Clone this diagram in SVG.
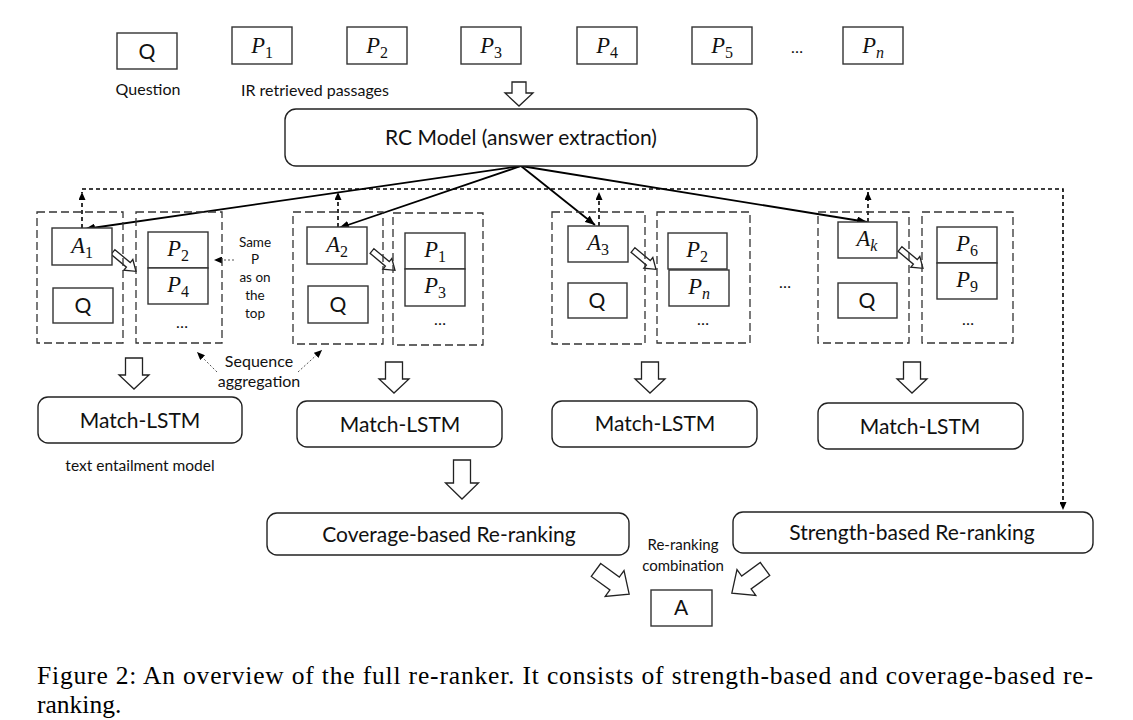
<svg xmlns="http://www.w3.org/2000/svg" width="1133" height="720" viewBox="0 0 1133 720">
<style>
.bx{fill:#fff;stroke:#333;stroke-width:1.4}
.rb{fill:#fff;stroke:#222;stroke-width:1.4}
.db{fill:none;stroke:#333;stroke-width:1.3;stroke-dasharray:8 4}
.ha{fill:#fff;stroke:#222;stroke-width:1.3;stroke-linejoin:miter}
.sl{fill:none;stroke:#000;stroke-width:1.8}
.dl{fill:none;stroke:#000;stroke-width:1.6;stroke-dasharray:4 3}
.dt{fill:none;stroke:#555;stroke-width:1;stroke-dasharray:2 2}
.t{font-family:Lato,"Open Sans",sans-serif;fill:#111}
.big{font-size:21px}
.sm{font-size:16px}
.xs{font-size:13.5px}
.m{font-family:"Liberation Serif",serif;font-size:22.5px;fill:#111}
.mi{font-style:italic}
.sub{font-size:16px}
.cap{font-family:"Liberation Serif",serif;font-size:25.5px;fill:#000}
</style>
<defs>
<marker id="ah" markerWidth="10" markerHeight="8" refX="10" refY="4" orient="auto" markerUnits="userSpaceOnUse"><path d="M0,0 L10,4 L0,8 Z" fill="#000"/></marker>
<marker id="ahs" markerWidth="8" markerHeight="7" refX="8" refY="3.5" orient="auto" markerUnits="userSpaceOnUse"><path d="M0,0 L8,3.5 L0,7 Z" fill="#000"/></marker>
<path id="down" d="M-8.5,0 H8.5 V17 H15 L0,31 L-15,17 H-8.5 Z"/>
<path id="down2" d="M-8.5,0 H8.5 V23 H16.5 L0,39 L-16.5,23 H-8.5 Z"/>
<path id="down0" d="M-7,0 H7 V11 H14 L0,24 L-14,11 H-7 Z"/>
<path id="slim" d="M0,-3 L20,-3 L20,-7 L30,0 L20,7 L20,3 L0,3 Z"/>
<path id="fat" d="M0,-8 L23,-8 L23,-16 L41,0 L23,16 L23,8 L0,8 Z"/>
</defs>
<rect width="1133" height="720" fill="#fff"/>

<g id="connectors">
<line class="sl" x1="521" y1="166" x2="85" y2="229" marker-end="url(#ah)"/>
<line class="sl" x1="521" y1="166" x2="339" y2="228" marker-end="url(#ah)"/>
<line class="sl" x1="521" y1="166" x2="595" y2="225" marker-end="url(#ah)"/>
<line class="sl" x1="521" y1="166" x2="867" y2="222" marker-end="url(#ah)"/>
<path class="dl" d="M82,189 H1063 V510" marker-end="url(#ahs)"/>
<line class="dl" x1="82" y1="228" x2="82" y2="192" marker-end="url(#ahs)"/>
<line class="dl" x1="338" y1="227" x2="338" y2="192" marker-end="url(#ahs)"/>
<line class="dl" x1="599" y1="226" x2="599" y2="192" marker-end="url(#ahs)"/>
<line class="dl" x1="868" y1="222" x2="868" y2="192" marker-end="url(#ahs)"/>
<line class="dt" x1="234" y1="260" x2="214" y2="260" marker-end="url(#ahs)"/>
<line class="dt" x1="217" y1="372" x2="197" y2="352" marker-end="url(#ahs)"/>
<line class="dt" x1="298" y1="372" x2="322" y2="350" marker-end="url(#ahs)"/>
<use href="#down0" class="ha" transform="translate(519,82)"/>
<use href="#slim" class="ha" transform="translate(113,252) rotate(40)"/>
<use href="#slim" class="ha" transform="translate(372,251) rotate(40)"/>
<use href="#slim" class="ha" transform="translate(633,250) rotate(40)"/>
<use href="#slim" class="ha" transform="translate(900,249) rotate(40)"/>
<use href="#down" class="ha" transform="translate(134,358)"/>
<use href="#down" class="ha" transform="translate(394,362)"/>
<use href="#down" class="ha" transform="translate(650,362)"/>
<use href="#down" class="ha" transform="translate(912,362)"/>
<use href="#down2" class="ha" transform="translate(462,460)"/>
<use href="#fat" class="ha" transform="translate(596,570) rotate(36)"/>
<use href="#fat" class="ha" transform="translate(765,569) rotate(144)"/>
</g>

<g id="question">
<rect class="bx" x="117" y="33" width="60" height="36"/>
<text class="t big" x="147" y="58.5" text-anchor="middle">Q</text>
<text class="t sm" x="148" y="95" text-anchor="middle">Question</text>
</g>
<g id="passages">
<rect class="bx" x="232" y="27" width="60" height="37"/>
<text class="m" x="262" y="53" text-anchor="middle"><tspan class="mi">P</tspan><tspan class="sub" dy="5">1</tspan></text>
<rect class="bx" x="347" y="27" width="60" height="37"/>
<text class="m" x="377" y="53" text-anchor="middle"><tspan class="mi">P</tspan><tspan class="sub" dy="5">2</tspan></text>
<rect class="bx" x="461" y="27" width="60" height="37"/>
<text class="m" x="491" y="53" text-anchor="middle"><tspan class="mi">P</tspan><tspan class="sub" dy="5">3</tspan></text>
<rect class="bx" x="577" y="27" width="60" height="37"/>
<text class="m" x="607" y="53" text-anchor="middle"><tspan class="mi">P</tspan><tspan class="sub" dy="5">4</tspan></text>
<rect class="bx" x="692" y="27" width="60" height="37"/>
<text class="m" x="722" y="53" text-anchor="middle"><tspan class="mi">P</tspan><tspan class="sub" dy="5">5</tspan></text>
<text class="t sm" x="797" y="53" text-anchor="middle">…</text>
<rect class="bx" x="843" y="27" width="60" height="37"/>
<text class="m" x="873" y="53" text-anchor="middle"><tspan class="mi">P</tspan><tspan class="sub mi" dy="5">n</tspan></text>
<text class="t sm" x="315" y="96" text-anchor="middle">IR retrieved passages</text>
</g>
<g id="rc-model">
<rect class="rb" x="285" y="109" width="472" height="57" rx="11"/>
<text class="t big" x="521" y="145" text-anchor="middle">RC Model (answer extraction)</text>
</g>

<g id="group-a1">
<rect class="db" x="37" y="212" width="86" height="131"/>
<rect class="bx" x="52" y="228" width="60" height="37"/>
<text class="m" x="82" y="253" text-anchor="middle"><tspan class="mi">A</tspan><tspan class="sub" dy="5">1</tspan></text>
<rect class="bx" x="53" y="288" width="60" height="35"/>
<text class="t big" x="83" y="313" text-anchor="middle">Q</text>
</g>
<g id="group-p1">
<rect class="db" x="136" y="212" width="86" height="131"/>
<rect class="bx" x="148" y="232" width="60" height="36"/>
<text class="m" x="178" y="256" text-anchor="middle"><tspan class="mi">P</tspan><tspan class="sub" dy="5">2</tspan></text>
<rect class="bx" x="148" y="268" width="60" height="36"/>
<text class="m" x="178" y="292" text-anchor="middle"><tspan class="mi">P</tspan><tspan class="sub" dy="5">4</tspan></text>
<text class="t sm" x="182" y="328" text-anchor="middle">…</text>
</g>
<g id="note-same-p">
<text class="t xs" text-anchor="middle"><tspan x="255" y="247">Same</tspan><tspan x="255" y="264">P</tspan><tspan x="255" y="282">as on</tspan><tspan x="255" y="300">the</tspan><tspan x="255" y="318">top</tspan></text>
</g>
<g id="note-seq">
<text class="t sm" text-anchor="middle"><tspan x="259" y="367">Sequence</tspan><tspan x="259" y="387">aggregation</tspan></text>
</g>

<g id="group-a2">
<rect class="db" x="293" y="212" width="90" height="132"/>
<rect class="bx" x="307" y="227" width="60" height="37"/>
<text class="m" x="337" y="252" text-anchor="middle"><tspan class="mi">A</tspan><tspan class="sub" dy="5">2</tspan></text>
<rect class="bx" x="308" y="286" width="60" height="37"/>
<text class="t big" x="338" y="312" text-anchor="middle">Q</text>
</g>
<g id="group-p2">
<rect class="db" x="393" y="213" width="90" height="132"/>
<rect class="bx" x="405" y="233" width="60" height="36"/>
<text class="m" x="435" y="257" text-anchor="middle"><tspan class="mi">P</tspan><tspan class="sub" dy="5">1</tspan></text>
<rect class="bx" x="405" y="269" width="60" height="37"/>
<text class="m" x="435" y="293" text-anchor="middle"><tspan class="mi">P</tspan><tspan class="sub" dy="5">3</tspan></text>
<text class="t sm" x="440" y="325" text-anchor="middle">…</text>
</g>

<g id="group-a3">
<rect class="db" x="552" y="212" width="93" height="132"/>
<rect class="bx" x="568" y="226" width="60" height="36"/>
<text class="m" x="598" y="250" text-anchor="middle"><tspan class="mi">A</tspan><tspan class="sub" dy="5">3</tspan></text>
<rect class="bx" x="568" y="283" width="59" height="35"/>
<text class="t big" x="597" y="308" text-anchor="middle">Q</text>
</g>
<g id="group-p3">
<rect class="db" x="657" y="212" width="93" height="131"/>
<rect class="bx" x="668" y="233" width="59" height="36"/>
<text class="m" x="697" y="257" text-anchor="middle"><tspan class="mi">P</tspan><tspan class="sub" dy="5">2</tspan></text>
<rect class="bx" x="669" y="270" width="60" height="36"/>
<text class="m" x="699" y="294" text-anchor="middle"><tspan class="mi">P</tspan><tspan class="sub mi" dy="5">n</tspan></text>
<text class="t sm" x="703" y="325" text-anchor="middle">…</text>
</g>
<text class="t sm" x="785" y="288" text-anchor="middle">…</text>

<g id="group-ak">
<rect class="db" x="818" y="212" width="91" height="131"/>
<rect class="bx" x="838" y="222" width="59" height="36"/>
<text class="m" x="867" y="246" text-anchor="middle"><tspan class="mi">A</tspan><tspan class="sub mi" dy="5">k</tspan></text>
<rect class="bx" x="838" y="283" width="59" height="35"/>
<text class="t big" x="867" y="308" text-anchor="middle">Q</text>
</g>
<g id="group-pk">
<rect class="db" x="922" y="212" width="91" height="131"/>
<rect class="bx" x="937" y="227" width="60" height="36"/>
<text class="m" x="967" y="251" text-anchor="middle"><tspan class="mi">P</tspan><tspan class="sub" dy="5">6</tspan></text>
<rect class="bx" x="937" y="263" width="60" height="36"/>
<text class="m" x="967" y="287" text-anchor="middle"><tspan class="mi">P</tspan><tspan class="sub" dy="5">9</tspan></text>
<text class="t sm" x="968" y="325" text-anchor="middle">…</text>
</g>

<g id="match-lstm-1">
<rect class="rb" x="38" y="397" width="204" height="46" rx="10"/>
<text class="t big" x="140" y="428" text-anchor="middle">Match-LSTM</text>
<text class="t" style="font-size:15.5px" x="140" y="471" text-anchor="middle">text entailment model</text>
</g>
<g id="match-lstm-2">
<rect class="rb" x="297" y="401" width="205" height="46" rx="10"/>
<text class="t big" x="400" y="432" text-anchor="middle">Match-LSTM</text>
</g>
<g id="match-lstm-3">
<rect class="rb" x="552" y="401" width="205" height="46" rx="10"/>
<text class="t big" x="655" y="431" text-anchor="middle">Match-LSTM</text>
</g>
<g id="match-lstm-4">
<rect class="rb" x="818" y="403" width="205" height="46" rx="10"/>
<text class="t big" x="920" y="434" text-anchor="middle">Match-LSTM</text>
</g>

<g id="coverage">
<rect class="rb" x="267" y="513" width="362" height="42" rx="10"/>
<text class="t big" x="449" y="542" text-anchor="middle">Coverage-based Re-ranking</text>
</g>
<g id="strength">
<rect class="rb" x="733" y="512" width="360" height="41" rx="10"/>
<text class="t big" x="912" y="540" text-anchor="middle">Strength-based Re-ranking</text>
</g>
<g id="combination-label">
<text class="t" style="font-size:15px" text-anchor="middle"><tspan x="683" y="550">Re-ranking</tspan><tspan x="683" y="571">combination</tspan></text>
</g>
<g id="answer">
<rect class="bx" x="651" y="590" width="61" height="36"/>
<text class="t big" x="681" y="615" text-anchor="middle">A</text>
</g>

<g id="caption">
<text class="cap" x="37" y="684" textLength="1056" lengthAdjust="spacing">Figure 2:  An overview of the full re-ranker.  It consists of strength-based and coverage-based re-</text>
<text class="cap" x="37" y="713">ranking.</text>
</g>
</svg>
